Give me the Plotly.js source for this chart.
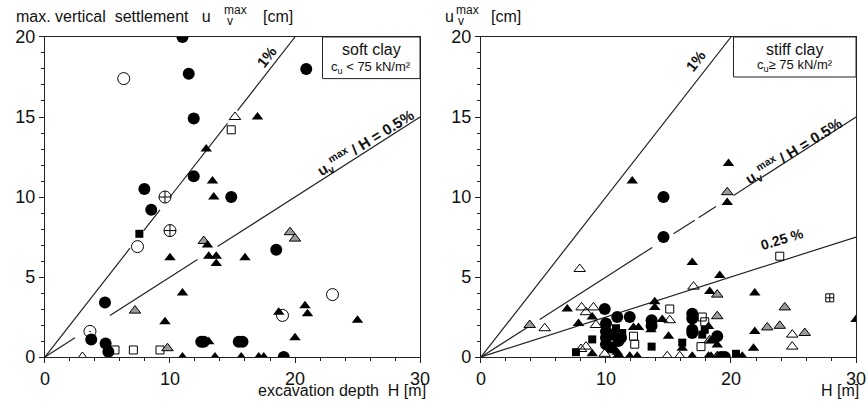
<!DOCTYPE html>
<html><head><meta charset="utf-8">
<script src="https://cdn.plot.ly/plotly-3.0.1.min.js"></script>
<style>body{margin:0;background:#fff}#chart{width:868px;height:403px}</style>
</head><body><div id="chart"></div>
<script>
// ---------- SOFT CLAY (left panel) ----------
const softFilledCircleX = [11.0, 11.5, 11.9, 11.9, 14.9, 20.9, 8.5, 7.95, 18.5, 4.8, 3.7, 4.85, 5.07, 12.5, 12.7, 15.5, 15.8, 19.1];
const softFilledCircleY = [20.0, 17.7, 14.9, 11.3, 10.0, 18.0, 9.2, 10.5, 6.7, 3.4, 1.1, 0.85, 0.33, 0.95, 0.95, 0.95, 0.95, 0.0];
const softOpenCircleX = [6.3, 7.4, 23.0, 19.0];
const softOpenCircleY = [17.4, 6.9, 3.9, 2.6];
const softCrossCircleX = [9.6, 10.0];
const softCrossCircleY = [10.0, 7.9];
const softDotCircleX = [3.6];
const softDotCircleY = [1.6];
const softFilledTriX = [12.9, 13.4, 13.5, 17.0, 13.0, 10.0, 13.1, 13.7, 13.7, 16.0, 11.0, 9.6, 13.1, 20.8, 21.0, 18.7, 25.0, 20.0, 11.0, 13.6, 15.7, 17.1, 17.5];
const softFilledTriY = [13.0, 11.0, 10.0, 15.0, 7.0, 6.2, 6.3, 6.3, 5.85, 6.2, 4.0, 2.2, 0.95, 3.2, 2.7, 2.8, 2.3, 1.2, 0.0, 0.0, 0.0, 0.0, 0.0];
const softHatchTriX = [12.7, 7.2, 9.8, 19.6, 20.0];
const softHatchTriY = [7.25, 2.9, 0.55, 7.8, 7.4];
const softOpenTriX = [15.2, 3.0];
const softOpenTriY = [15.0, 0.0];
const softOpenSquareX = [14.9, 5.6, 7.07, 9.2];
const softOpenSquareY = [14.2, 0.44, 0.44, 0.44];
const softFilledSquareX = [7.55];
const softFilledSquareY = [7.7];

// ---------- STIFF CLAY (right panel) ----------
const stiffFilledCircleX = [14.6, 14.6, 9.9, 10.9, 11.9, 10.0, 10.0, 10.0, 10.0, 10.5, 11.2, 13.65, 13.65, 16.9, 16.9, 16.9, 16.9, 18.9, 19.2, 19.5, 11.0, 10.4];
const stiffFilledCircleY = [10.0, 7.5, 3.0, 2.5, 2.5, 2.1, 1.6, 1.2, 0.8, 1.4, 1.2, 2.3, 1.95, 2.7, 2.4, 1.7, 1.5, 1.3, 0.0, 0.0, 1.0, 0.6];
const stiffFilledTriX = [12.1, 19.8, 19.7, 16.9, 19.1, 18.3, 21.9, 13.9, 13.9, 6.9, 8.9, 7.8, 12.2, 12.6, 14.5, 13.6, 15.0, 18.2, 18.4, 18.9, 21.9, 21.8, 30.0, 8.9, 10.9, 11.9, 12.5, 16.9, 18.2, 18.4, 20.9, 16.1, 11.0];
const stiffFilledTriY = [11.0, 12.1, 9.65, 5.9, 5.1, 4.1, 4.0, 3.45, 3.1, 3.0, 2.5, 2.1, 1.85, 1.85, 2.35, 1.7, 1.3, 1.9, 1.0, 0.75, 1.6, 0.55, 2.35, 0.2, 0.3, 0.05, 0.05, 0.05, 0.05, 0.05, 0.05, 0.55, 0.15];
const stiffHatchTriX = [19.7, 3.9, 18.9, 24.3, 18.9, 22.9, 23.9, 25.9, 18.9, 18.3];
const stiffHatchTriY = [10.3, 2.0, 3.9, 3.1, 2.55, 1.85, 1.95, 1.5, 0.05, 1.05];
const stiffOpenTriX = [7.9, 8.05, 8.4, 9.0, 5.1, 9.2, 17.0, 15.1, 24.9, 24.9, 8.0, 8.4, 9.9, 14.9, 15.9];
const stiffOpenTriY = [5.5, 3.1, 2.8, 3.1, 1.8, 2.0, 4.4, 2.3, 1.4, 0.65, 0.5, 0.65, 0.2, 0.05, 0.05];
const stiffOpenSquareX = [23.9, 15.1, 17.7, 17.9, 17.6, 12.2, 12.3];
const stiffOpenSquareY = [6.3, 3.0, 2.5, 2.2, 0.65, 1.3, 0.8];
const stiffFilledSquareX = [8.9, 7.6, 13.65, 17.7, 17.9, 16.1, 20.4, 11.3, 10.8];
const stiffFilledSquareY = [1.1, 0.3, 0.65, 1.4, 1.7, 0.9, 0.2, 1.5, 1.8];
const stiffCrossSquareX = [27.9];
const stiffCrossSquareY = [3.7];

// ---------- reference lines: settlement ratio u/H and drawn x-segments (gaps) ----------
const softRatios = [0.01, 0.005];
const softSegments = [[[0, 6.8], [7.9, 9.2], [10.0, 14.6], [15.4, 20]], [[0, 2.4], [5.2, 12.2], [13.8, 30]]];
const stiffRatios = [0.01, 0.005, 0.0025];
const stiffSegments = [[[0, 20]], [[0, 3.7], [4.7, 13.7], [15.4, 17.1], [17.4, 18.8], [20.2, 30]], [[0, 30]]];

// tick labels
const xTickVals = [0, 10, 20, 30];
const yTickVals = [0, 5, 10, 15, 20];

const FONT = 'Liberation Sans, Arial, sans-serif';
const traces = [];
function pts(x, y, xa, ya, symbol, size, color, lineW) {
  traces.push({type: 'scatter', mode: 'markers', x: x, y: y, xaxis: xa, yaxis: ya, showlegend: false, hoverinfo: 'skip',
    marker: {symbol: symbol, size: size, color: color, line: {color: '#000', width: lineW}}});
}
function refLines(ratios, segs, xa, ya) {
  ratios.forEach((r, i) => {
    const xs = [], ys = [];
    segs[i].forEach(s => { xs.push(s[0], s[1], null); ys.push(r * 100 * s[0], r * 100 * s[1], null); });
    traces.push({type: 'scatter', mode: 'lines', x: xs, y: ys, xaxis: xa, yaxis: ya, showlegend: false, hoverinfo: 'skip',
      line: {color: '#222', width: 1.2}, cliponaxis: true});
  });
}
refLines(softRatios, softSegments, 'x', 'y');
refLines(stiffRatios, stiffSegments, 'x2', 'y2');

pts(softOpenSquareX, softOpenSquareY, 'x', 'y', 'square-open', 8, '#000', 1);
pts(softFilledSquareX, softFilledSquareY, 'x', 'y', 'square', 8, '#000', 0);
pts(softOpenTriX, softOpenTriY, 'x', 'y', 'triangle-up-open', 10, '#000', 1);
pts(softHatchTriX, softHatchTriY, 'x', 'y', 'triangle-up', 10, '#9a9a9a', 1);
pts(softFilledTriX, softFilledTriY, 'x', 'y', 'triangle-up', 10, '#000', 0);
pts(softFilledCircleX, softFilledCircleY, 'x', 'y', 'circle', 12, '#000', 0);
pts(softOpenCircleX, softOpenCircleY, 'x', 'y', 'circle-open', 12, '#000', 1);
pts(softCrossCircleX, softCrossCircleY, 'x', 'y', 'circle-cross-open', 12, '#000', 1);
pts(softDotCircleX, softDotCircleY, 'x', 'y', 'circle-open-dot', 12, '#000', 1);

pts(stiffOpenSquareX, stiffOpenSquareY, 'x2', 'y2', 'square-open', 8, '#000', 1);
pts(stiffFilledSquareX, stiffFilledSquareY, 'x2', 'y2', 'square', 8, '#000', 0);
pts(stiffCrossSquareX, stiffCrossSquareY, 'x2', 'y2', 'square-cross-open', 8, '#000', 1);
pts(stiffOpenTriX, stiffOpenTriY, 'x2', 'y2', 'triangle-up-open', 10, '#000', 1);
pts(stiffHatchTriX, stiffHatchTriY, 'x2', 'y2', 'triangle-up', 10, '#9a9a9a', 1);
pts(stiffFilledTriX, stiffFilledTriY, 'x2', 'y2', 'triangle-up', 10, '#000', 0);
pts(stiffFilledCircleX, stiffFilledCircleY, 'x2', 'y2', 'circle', 12, '#000', 0);

function xAxis(dom, anchor) {
  return {domain: dom, anchor: anchor, range: [0, 30], tickvals: xTickVals, ticktext: xTickVals.map(String),
    showline: true, linecolor: '#222', linewidth: 1.2, mirror: true, showgrid: false, zeroline: false,
    ticks: 'outside', ticklen: 5, tickcolor: '#222', tickfont: {family: FONT, size: 18, color: '#111'},
    minor: {dtick: 2, ticks: 'outside', ticklen: 3, tickcolor: '#222', showgrid: false}, fixedrange: true};
}
function yAxis(anchor) {
  return {domain: [0.1141, 0.9082], anchor: anchor, range: [0, 20], tickvals: yTickVals, ticktext: yTickVals.map(String),
    showline: true, linecolor: '#222', linewidth: 1.2, mirror: true, showgrid: false, zeroline: false,
    ticks: 'outside', ticklen: 5, tickcolor: '#222', tickfont: {family: FONT, size: 18, color: '#111'},
    minor: {dtick: 1, ticks: 'outside', ticklen: 3, tickcolor: '#222', showgrid: false}, fixedrange: true};
}

const NB = '\u00A0';
const ann = [];
function txt(text, x, y, xref, yref, size, opts) {
  ann.push(Object.assign({text: text, x: x, y: y, xref: xref, yref: yref, showarrow: false,
    font: {family: FONT, size: size, color: '#111'}}, opts || {}));
}
// y titles (stacked sub/superscript built from separate pieces)
txt('max. vertical' + NB + NB + 'settlement' + NB + NB + NB + 'u', 14 / 868, 1 - 16 / 403, 'paper', 'paper', 16, {xanchor: 'left', yanchor: 'middle'});
txt('max', 222 / 868, 1 - 10 / 403, 'paper', 'paper', 12, {xanchor: 'left', yanchor: 'middle'});
txt('v', 225 / 868, 1 - 21 / 403, 'paper', 'paper', 12, {xanchor: 'left', yanchor: 'middle'});
txt('[cm]', 261 / 868, 1 - 16 / 403, 'paper', 'paper', 16, {xanchor: 'left', yanchor: 'middle'});
txt('u', 443 / 868, 1 - 16 / 403, 'paper', 'paper', 16, {xanchor: 'left', yanchor: 'middle'});
txt('max', 454 / 868, 1 - 10 / 403, 'paper', 'paper', 12, {xanchor: 'left', yanchor: 'middle'});
txt('v', 456 / 868, 1 - 21 / 403, 'paper', 'paper', 12, {xanchor: 'left', yanchor: 'middle'});
txt('[cm]', 489 / 868, 1 - 16 / 403, 'paper', 'paper', 16, {xanchor: 'left', yanchor: 'middle'});
// x titles
txt('excavation depth' + NB + NB + 'H [m]', 428 / 868, 1 - 390 / 403, 'paper', 'paper', 16, {xanchor: 'right', yanchor: 'middle'});
txt('H [m]', 861 / 868, 1 - 390 / 403, 'paper', 'paper', 16, {xanchor: 'right', yanchor: 'middle'});
// legend boxes
txt('soft clay', 26.1, 19.2, 'x', 'y', 16);
txt('c<sub>u</sub> < 75 kN/m²', 26.1, 18.1, 'x', 'y', 13);
txt('stiff clay', 25.1, 19.2, 'x2', 'y2', 16);
txt('c<sub>u</sub>≥ 75 kN/m²', 25.1, 18.2, 'x2', 'y2', 13);
// line labels
txt('<b>1%</b>', 17.76, 18.75, 'x', 'y', 15, {textangle: -52});
txt('<b>1%</b>', 17.2, 18.5, 'x2', 'y2', 15, {textangle: -52});
txt('<b>u<sub>v</sub><sup>max</sup> / H = 0.5%</b>', 25.6, 13.4, 'x', 'y', 15, {textangle: -32});
txt('<b>u<sub>v</sub><sup>max</sup> / H = 0.5%</b>', 25.0, 12.9, 'x2', 'y2', 15, {textangle: -32});
txt('<b>0.25 %</b>', 24.1, 7.4, 'x2', 'y2', 14, {textangle: -17});

const shapes = [
  {type: 'rect', xref: 'x', yref: 'y', x0: 22.2, x1: 30, y0: 17.4, y1: 20, line: {color: '#222', width: 1}, fillcolor: 'rgba(0,0,0,0)'},
  {type: 'rect', xref: 'x2', yref: 'y2', x0: 20.2, x1: 30, y0: 17.5, y1: 20, line: {color: '#222', width: 1}, fillcolor: 'rgba(0,0,0,0)'}
];

const layout = {
  width: 868, height: 403, margin: {l: 0, r: 0, t: 0, b: 0}, paper_bgcolor: '#fff', plot_bgcolor: '#fff',
  showlegend: false,
  xaxis: xAxis([0.0518, 0.4839], 'y'), yaxis: yAxis('x'),
  xaxis2: xAxis([0.5541, 0.9862], 'y2'), yaxis2: yAxis('x2'),
  annotations: ann, shapes: shapes
};
Plotly.newPlot('chart', traces, layout, {staticPlot: true, displayModeBar: false});
</script></body></html>
